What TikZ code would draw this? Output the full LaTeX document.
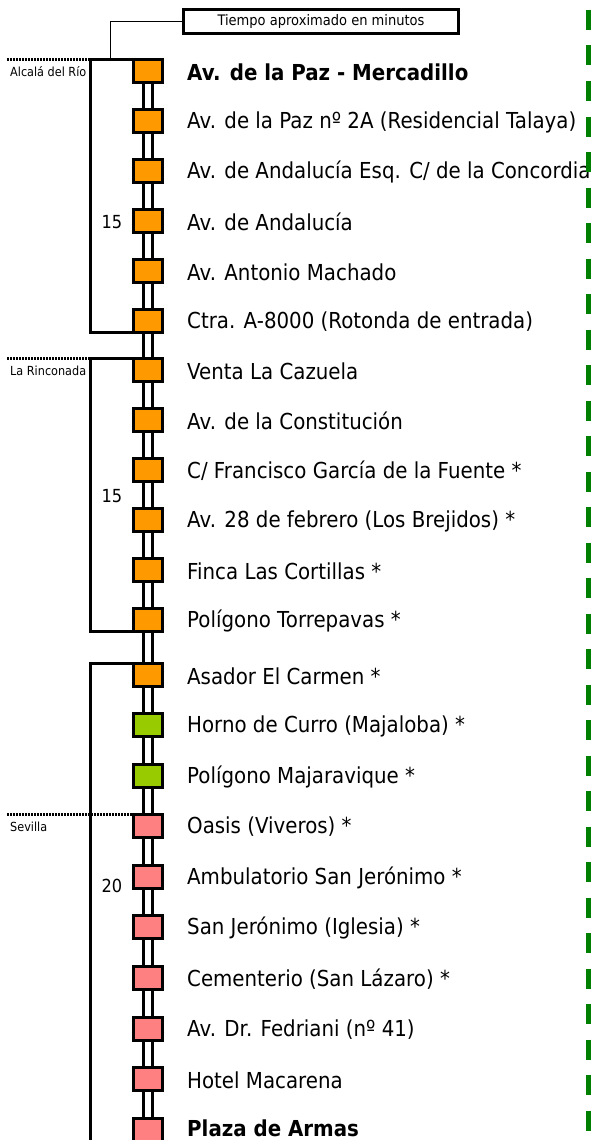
\documentclass[tikz,border=0pt]{standalone}
\usepackage{fontspec}
\setmainfont{DejaVu Sans}[FakeStretch=0.9]
\begin{document}
\begin{tikzpicture}[x=1pt,y=-1pt,line join=miter]
\definecolor{orng}{RGB}{255,153,0}
\definecolor{grn}{RGB}{153,204,0}
\definecolor{pnk}{RGB}{255,128,128}
\definecolor{dgrn}{RGB}{0,128,0}
\tikzset{
  stn/.style={rectangle,draw=black,line width=3pt,minimum width=29pt,minimum height=23pt,inner sep=0pt,outer sep=0pt},
  lbl/.style={anchor=west,inner sep=0pt,font=\fontsize{22}{26}\selectfont},
  brk/.style={line width=3pt},
  dotline/.style={line width=3pt,dash pattern=on 2pt off 1pt},
  small/.style={anchor=west,inner sep=0pt,font=\fontsize{12.5}{14}\selectfont},
  num/.style={inner sep=0pt,font=\fontsize{18}{20}\selectfont}
}
\useasboundingbox (0,0) rectangle (591,1140);
% stations
\node[stn,fill=orng] (s1) at (148,71) {};
\node[stn,fill=orng] (s2) at (148,121) {};
\node[stn,fill=orng] (s3) at (148,171) {};
\node[stn,fill=orng] (s4) at (148,221) {};
\node[stn,fill=orng] (s5) at (148,271) {};
\node[stn,fill=orng] (s6) at (148,321) {};
\node[stn,fill=orng] (s7) at (148,370) {};
\node[stn,fill=orng] (s8) at (148,420) {};
\node[stn,fill=orng] (s9) at (148,470) {};
\node[stn,fill=orng] (s10) at (148,520) {};
\node[stn,fill=orng] (s11) at (148,570) {};
\node[stn,fill=orng] (s12) at (148,620) {};
\node[stn,fill=orng] (s13) at (148,675) {};
\node[stn,fill=grn] (s14) at (148,725) {};
\node[stn,fill=grn] (s15) at (148,776) {};
\node[stn,fill=pnk] (s16) at (148,826) {};
\node[stn,fill=pnk] (s17) at (148,877) {};
\node[stn,fill=pnk] (s18) at (148,927) {};
\node[stn,fill=pnk] (s19) at (148,978) {};
\node[stn,fill=pnk] (s20) at (148,1029) {};
\node[stn,fill=pnk] (s21) at (148,1079) {};
\node[stn,fill=pnk] (s22) at (148,1130) {};
% connector
\draw[line width=12pt] (s1.center) -- (s22.center);
\draw[white,line width=6pt] (s1.center) -- (s22.center);
% redraw boxes on top of connector
\foreach \i/\c in {1/orng,2/orng,3/orng,4/orng,5/orng,6/orng,7/orng,8/orng,9/orng,10/orng,11/orng,12/orng,13/orng,14/grn,15/grn,16/pnk,17/pnk,18/pnk,19/pnk,20/pnk,21/pnk,22/pnk}
  \draw[line width=3pt,fill=\c] (s\i.north west) rectangle (s\i.south east);
% labels
\node[lbl,font=\fontsize{22}{26}\selectfont\bfseries] (t1) at ([xshift=24.5pt,yshift=-1pt]s1.east) {Av. de la Paz - Mercadillo};
\node[lbl] (t2) at ([xshift=24.5pt,yshift=-1pt]s2.east) {Av. de la Paz nº 2A (Residencial Talaya)};
\node[lbl] (t3) at ([xshift=24.5pt,yshift=-1pt]s3.east) {Av. de Andalucía Esq. C/ de la Concordia};
\node[lbl] (t4) at ([xshift=24.5pt,yshift=-1pt]s4.east) {Av. de Andalucía};
\node[lbl] (t5) at ([xshift=24.5pt,yshift=-1pt]s5.east) {Av. Antonio Machado};
\node[lbl] (t6) at ([xshift=24.5pt,yshift=-1pt]s6.east) {Ctra. A-8000 (Rotonda de entrada)};
\node[lbl] (t7) at ([xshift=24.5pt,yshift=-1pt]s7.east) {Venta La Cazuela};
\node[lbl] (t8) at ([xshift=24.5pt,yshift=-1pt]s8.east) {Av. de la Constitución};
\node[lbl] (t9) at ([xshift=24.5pt,yshift=-1pt]s9.east) {C/ Francisco García de la Fuente *};
\node[lbl] (t10) at ([xshift=24.5pt,yshift=-1pt]s10.east) {Av. 28 de febrero (Los Brejidos) *};
\node[lbl] (t11) at ([xshift=24.5pt,yshift=-1pt]s11.east) {Finca Las Cortillas *};
\node[lbl] (t12) at ([xshift=24.5pt,yshift=-1pt]s12.east) {Polígono Torrepavas *};
\node[lbl] (t13) at ([xshift=24.5pt,yshift=-1pt]s13.east) {Asador El Carmen *};
\node[lbl] (t14) at ([xshift=24.5pt,yshift=-1pt]s14.east) {Horno de Curro (Majaloba) *};
\node[lbl] (t15) at ([xshift=24.5pt,yshift=-1pt]s15.east) {Polígono Majaravique *};
\node[lbl] (t16) at ([xshift=24.5pt,yshift=-1pt]s16.east) {Oasis (Viveros) *};
\node[lbl] (t17) at ([xshift=24.5pt,yshift=-1pt]s17.east) {Ambulatorio San Jerónimo *};
\node[lbl] (t18) at ([xshift=24.5pt,yshift=-1pt]s18.east) {San Jerónimo (Iglesia) *};
\node[lbl] (t19) at ([xshift=24.5pt,yshift=-1pt]s19.east) {Cementerio (San Lázaro) *};
\node[lbl] (t20) at ([xshift=24.5pt,yshift=-1pt]s20.east) {Av. Dr. Fedriani (nº 41)};
\node[lbl] (t21) at ([xshift=24.5pt,yshift=-1pt]s21.east) {Hotel Macarena};
\node[lbl,font=\fontsize{22}{26}\selectfont\bfseries] (t22) at ([xshift=24.5pt,yshift=1.5pt]s22.east) {Plaza de Armas};
% brackets
\coordinate (d1) at (7,59.5);
\coordinate (d2) at (7,358.5);
\coordinate (d3) at (7,814.5);
\coordinate (b3end) at (90.5,1141);
\draw[brk] (s1.north west) -- ++(-43,0) coordinate (c1) |- (s6.south west);
\draw[brk] (s7.north west) -- ++(-43,0) coordinate (c2) |- (s12.south west);
\draw[brk] (s13.north west) -- ++(-43,0) coordinate (c3) -- (b3end);
\draw[dotline] (d1) -- (c1);
\draw[dotline] (d2) -- (c2);
\draw[dotline] (d3) -- (s16.north west);
\node[small] (r1) at (10,72) {Alcalá del Río};
\node[small] (r2) at (10,371) {La Rinconada};
\node[small] (r3) at (10,827) {Sevilla};
\node[num] (n1) at (112,222) {15};
\node[num] (n2) at (112,496) {15};
\node[num] (n3) at (112,886) {20};
% header
\node[draw,line width=3pt,anchor=west,inner xsep=34pt,minimum height=24pt,outer sep=0pt,font=\fontsize{14.5}{16}\selectfont] (hdr) at (183.5,21.5) {Tiempo aproximado en minutos};
\coordinate (hj) at (110.7,59.5);
\draw[line width=1pt] (hdr.west) -| (hj);
% green dashed
\coordinate (g1) at (588.5,10);
\coordinate (g2) at (588.5,1140);
\draw[dgrn,line width=5pt,dash pattern=on 20pt off 15.5pt] (g1) -- (g2);
\end{tikzpicture}
\end{document}
